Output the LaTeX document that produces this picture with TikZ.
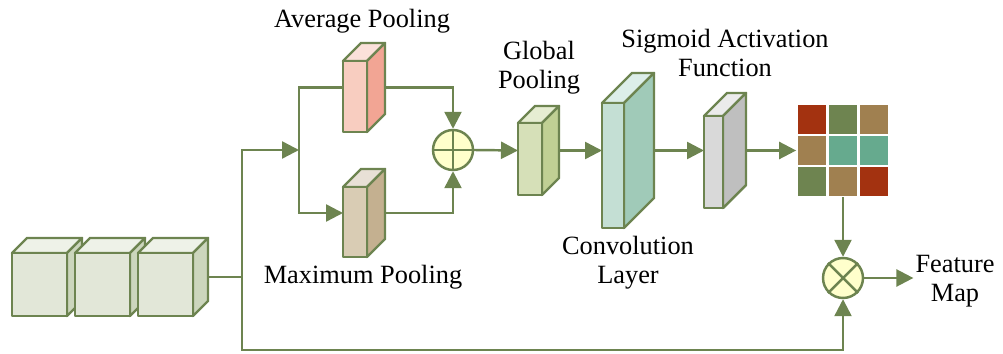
\documentclass[tikz,border=0pt]{standalone}
\usepackage{fontspec}
\setmainfont{Liberation Serif}
\usepackage{tikz}
\usetikzlibrary{arrows.meta}
\definecolor{lgreen}{HTML}{6D8450}
\definecolor{opfill}{HTML}{FFFFCC}
\definecolor{fmred}{HTML}{A33210}
\definecolor{fmgreen}{HTML}{6E8450}
\definecolor{fmtan}{HTML}{A08050}
\definecolor{fmteal}{HTML}{66AA8E}
\tikzset{
  lnk/.style    = {draw=lgreen,line width=1.4pt},
  arr/.style    = {lnk,-{Triangle[length=3.4mm,width=3.4mm]}},
  blk/.style    = {draw=lgreen,line width=1.4pt,line join=round},
  opcirc/.style = {circle,draw=lgreen,fill=opfill,line width=1.4pt,minimum size=0.8cm,inner sep=0pt},
  lbl/.style    = {align=center,inner sep=1pt,font=\fontsize{15}{16.5}\selectfont}
}
% #1 name, #2 x, #3 y (front top left), #4 width, #5 height, #6 depth, #7 front, #8 side, #9 top (hex)
\newcommand{\slab}[9]{%
  \definecolor{#1-f}{HTML}{#7}\definecolor{#1-s}{HTML}{#8}\definecolor{#1-t}{HTML}{#9}%
  \draw[blk,fill=#1-t] (#2,#3) -- ++(#6,-#6) -- ++(#4,0) -- ++(-#6,#6) -- cycle;
  \draw[blk,fill=#1-s] (#2+#4,#3) -- ++(#6,-#6) -- ++(0,#5) -- ++(-#6,#6) -- cycle;
  \draw[blk,fill=#1-f] (#2,#3) rectangle ++(#4,#5);
  \coordinate (#1-w) at (#2,#3+#5/2-#6/2);
  \coordinate (#1-e) at (#2+#4+#6,#3+#5/2-#6/2);
}

\begin{document}
\begin{tikzpicture}[x=0.02cm,y=-0.02cm]
  \useasboundingbox (0,0) rectangle (1003,354);
  % input feature cubes
  \slab{cubea}{12}{253}{55}{63}{15}{E2E7D8}{CCD6BD}{EEF2E8}
  \slab{cubeb}{75}{253}{55}{63}{15}{E2E7D8}{CCD6BD}{EEF2E8}
  \slab{cubec}{138}{253}{55}{63}{15}{E2E7D8}{CCD6BD}{EEF2E8}
  % pooling branches
  \slab{avg}{343}{61}{24}{71}{18}{F8CDC0}{F2A594}{FBE1DA}
  \slab{max}{343}{187}{24}{70}{18}{D9CCB4}{C4B090}{E8E0D6}
  \slab{gp}{518}{123}{24}{72}{17}{D6E0B8}{C0D094}{E6EDD2}
  \slab{conv}{602}{103}{22}{125}{30}{C4DFD4}{A0CAB8}{DDEEE9}
  \slab{sig}{704}{116}{19}{92}{23}{D9D9D9}{BFBFBF}{EBEBEB}
  \node[opcirc] (plus) at (453,150) {};
  \draw[lnk] (plus.north) -- (plus.south) (plus.west) -- (plus.east);
  \node[opcirc] (times) at (843,278) {};
  \draw[lnk] (times.north west) -- (times.south east) (times.north east) -- (times.south west);
  % attention map
  \node[minimum size=1.86cm,inner sep=0pt] (map) at (843,150.5) {};
  \foreach \cx/\cy/\cc in {0/0/fmred,1/0/fmgreen,2/0/fmtan,0/1/fmtan,1/1/fmteal,2/1/fmteal,0/2/fmgreen,1/2/fmtan,2/2/fmred}
    \draw[white,line width=1.2pt,fill=\cc] (796.5+31*\cx,104+31*\cy) rectangle ++(31,31);
  % labels
  \node[lbl] (avgl)  at (362,21)  {Average Pooling};
  \node[lbl] (maxl)  at (363,277) {Maximum Pooling};
  \node[lbl] (gpl)   at (539,68)  {Global\\Pooling};
  \node[lbl] (convl) at (628,263) {Convolution\\Layer};
  \node[lbl] (sigl)  at (725,53)  {Sigmoid Activation\\Function};
  \node[lbl] (fm)    at (955,281) {Feature\\Map};
  % connectors
  \coordinate (jn) at (242,277);
  \coordinate (br) at (299,150);
  \draw[lnk] (cubec-e) -- (jn);
  \draw[arr] (jn) |- (br);
  \draw[arr] (jn) -- ++(0,73) -| (times.south);
  \draw[lnk] (br) |- (avg-w);
  \draw[arr] (br) |- (max-w);
  \draw[arr] (avg-e) -| (plus.north);
  \draw[arr] (max-e) -| (plus.south);
  \draw[arr] (plus.east) -- (gp-w);
  \draw[arr] (gp-e) -- (conv-w);
  \draw[arr] (conv-e) -- (sig-w);
  \draw[arr] (sig-e) -- (map.west);
  \draw[arr] (map.south) -- (times.north);
  \draw[arr] (times.east) -- (times.east -| fm.west);
\end{tikzpicture}
\end{document}
